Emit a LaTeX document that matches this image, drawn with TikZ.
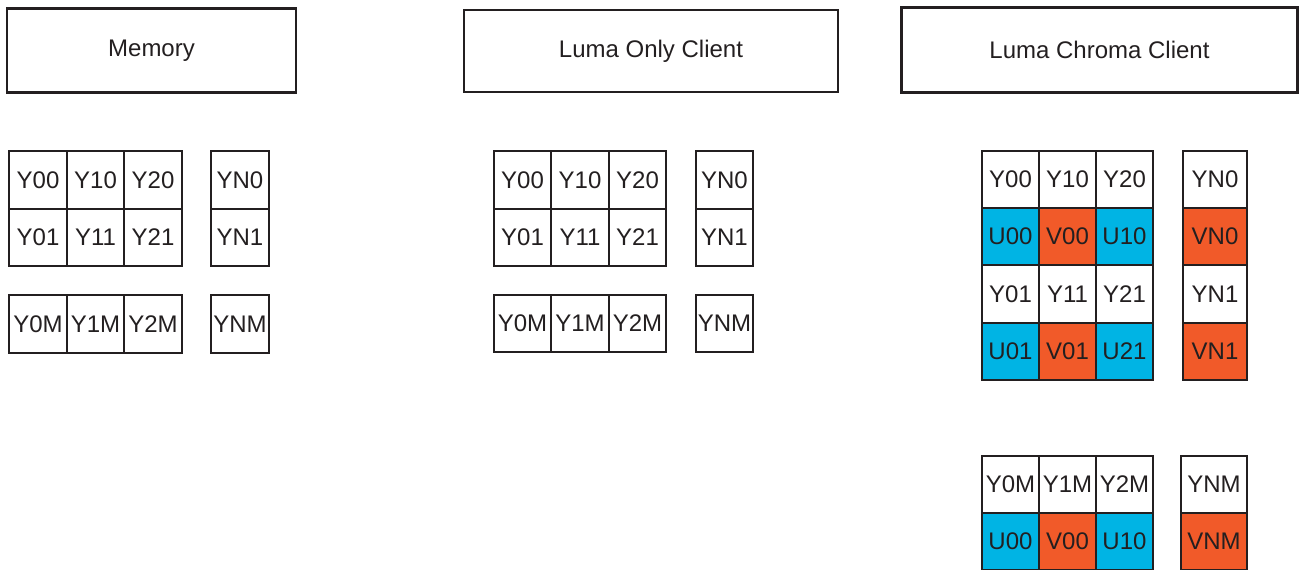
\documentclass[tikz,border=0pt]{standalone}
\usepackage{fontspec}
\setmainfont{Liberation Sans}
\definecolor{ink}{HTML}{231F20}
\definecolor{ucyan}{HTML}{00B4E4}
\definecolor{vorange}{HTML}{F15A29}
\begin{document}
\begin{tikzpicture}[x=1pt,y=-1pt,
  hdr/.style={draw=ink,line width=2.2pt,inner sep=0pt,font=\fontsize{24}{26}\selectfont,text=ink},
  cell/.style={draw=ink,line width=2.2pt,inner sep=0pt,minimum width=57.5pt,minimum height=57.5pt,font=\fontsize{24}{26}\selectfont,text=ink},
  widecell/.style={cell,minimum width=64pt},
  ucell/.style={cell,fill=ucyan},
  vcell/.style={cell,fill=vorange},
  vwide/.style={widecell,fill=vorange}]
\useasboundingbox (0,0) rectangle (1299,570);
% headers
\node[hdr,minimum width=289pt,minimum height=84pt] (memory) at (151.5,50.5) {Memory};
\node[hdr,minimum width=374pt,minimum height=82pt] (luma) at (651,51) {Luma Only Client};
\node[hdr,minimum width=396pt,minimum height=85pt] (chroma) at (1099.5,50) {Luma Chroma Client};
% Memory
\foreach \t [count=\i] in {Y00,Y10,Y20} \node[cell] (mem-\t) at ({38+57.5*(\i-1)},180) {\t};
\foreach \t [count=\i] in {Y01,Y11,Y21} \node[cell] (mem-\t) at ({38+57.5*(\i-1)},237.5) {\t};
\foreach \t [count=\i] in {Y0M,Y1M,Y2M} \node[cell] (mem-\t) at ({38+57.5*(\i-1)},324) {\t};
\node[cell] (mem-YN0) at (240,180) {YN0};
\node[cell] (mem-YN1) at (240,237.5) {YN1};
\node[cell] (mem-YNM) at (240,324) {YNM};
% Luma only
\foreach \t [count=\i] in {Y00,Y10,Y20} \node[cell] (lo-\t) at ({522.5+57.5*(\i-1)},180) {\t};
\foreach \t [count=\i] in {Y01,Y11,Y21} \node[cell] (lo-\t) at ({522.5+57.5*(\i-1)},237.5) {\t};
\foreach \t [count=\i] in {Y0M,Y1M,Y2M} \node[cell] (lo-\t) at ({522.5+57.5*(\i-1)},323.5) {\t};
\node[cell] (lo-YN0) at (724.5,180) {YN0};
\node[cell] (lo-YN1) at (724.5,237.5) {YN1};
\node[cell] (lo-YNM) at (724.5,323.5) {YNM};
% Luma chroma
\foreach \t [count=\i] in {Y00,Y10,Y20} \node[cell] (lc-\t) at ({1010.5+57*(\i-1)},179.5) {\t};
\node[ucell] (lc-U00) at (1010.5,236.5) {U00};
\node[vcell] (lc-V00) at (1067.5,236.5) {V00};
\node[ucell] (lc-U10) at (1124.5,236.5) {U10};
\foreach \t [count=\i] in {Y01,Y11,Y21} \node[cell] (lc-\t) at ({1010.5+57*(\i-1)},294) {\t};
\node[ucell] (lc-U01) at (1010.5,351.5) {U01};
\node[vcell] (lc-V01) at (1067.5,351.5) {V01};
\node[ucell] (lc-U21) at (1124.5,351.5) {U21};
\node[widecell] (lc-YN0) at (1215,179.5) {YN0};
\node[vwide] (lc-VN0) at (1215,236.5) {VN0};
\node[widecell] (lc-YN1) at (1215,294) {YN1};
\node[vwide] (lc-VN1) at (1215,351.5) {VN1};
\foreach \t [count=\i] in {Y0M,Y1M,Y2M} \node[cell] (lc-\t) at ({1010.5+57*(\i-1)},484.5) {\t};
\node[ucell] (lc-U00b) at (1010.5,541.5) {U00};
\node[vcell] (lc-V00b) at (1067.5,541.5) {V00};
\node[ucell] (lc-U10b) at (1124.5,541.5) {U10};
\node[widecell,minimum width=66pt] (lc-YNM) at (1214,484.5) {YNM};
\node[vwide,minimum width=66pt] (lc-VNM) at (1214,541.5) {VNM};
\end{tikzpicture}
\end{document}
